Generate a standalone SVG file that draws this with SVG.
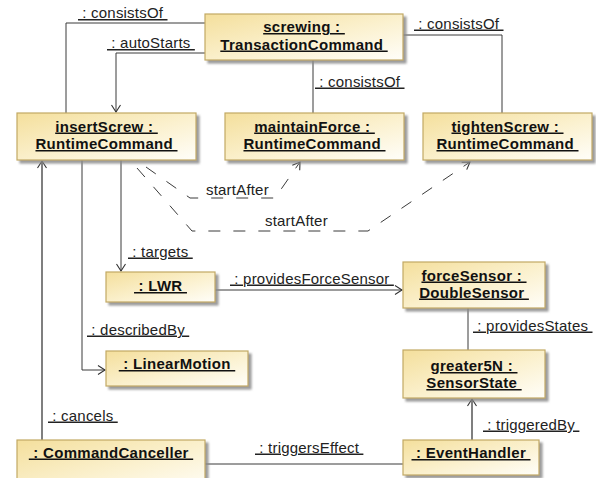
<svg xmlns="http://www.w3.org/2000/svg" width="596" height="478" viewBox="0 0 596 478">
  <style>
    .box { fill: url(#boxFill); stroke: #c2a964; stroke-width: 1.2; filter: url(#shade); }
    .nt { font-family: "Liberation Sans", Arial, sans-serif; font-size: 15px; font-weight: bold; fill: #111; text-anchor: middle; text-decoration: underline; white-space: pre; letter-spacing: 0.3px; }
    .lb { font-family: "Liberation Sans", Arial, sans-serif; font-size: 15px; fill: #222; text-decoration: underline; white-space: pre; letter-spacing: 0.2px; }
    .lb.plain { text-decoration: none; }
    .edge { fill: none; stroke: #3a3a3a; stroke-width: 1; }
    .heavy { stroke: #555; stroke-width: 1.5; }
    .dash { stroke-dasharray: 12 13; }
    .arr { marker-end: url(#open); }
  </style>
  <defs>
    <linearGradient id="boxFill" x1="0" y1="0" x2="1" y2="1">
      <stop offset="0" stop-color="#f4df9c"/>
      <stop offset="0.55" stop-color="#fbf1cf"/>
      <stop offset="1" stop-color="#fffef9"/>
    </linearGradient>
    <filter id="shade" x="-10%" y="-10%" width="130%" height="140%">
      <feDropShadow dx="3" dy="3" stdDeviation="1" flood-color="#8a8a8a" flood-opacity="0.85"/>
    </filter>
    <marker id="open" markerWidth="12" markerHeight="12" refX="10" refY="6" orient="auto" markerUnits="userSpaceOnUse">
      <path d="M3,1.5 L10,6 L3,10.5" fill="none" stroke="#333" stroke-width="1.1" stroke-dasharray="none"/>
    </marker>
  </defs>
  <rect width="596" height="478" fill="#ffffff"/>

  <!-- connectors -->
  <g id="connectors">
    <polyline class="edge" points="205,23 66,23 66,113"/>
    <polyline class="edge arr" points="205,53 116,53 116,112"/>
    <polyline class="edge" points="403,35 502,35 502,113"/>
    <line class="edge" x1="313" y1="60" x2="313" y2="113"/>
    <polyline class="edge dash arr" points="146,167 190,198 275,198 300,162"/>
    <polyline class="edge dash arr" points="137,168 192,231 368,231 470,162"/>
    <line class="edge arr" x1="121" y1="160" x2="121" y2="271"/>
    <polyline class="edge arr" points="82,160 82,370 105,370"/>
    <line class="edge heavy arr" x1="42" y1="440" x2="42" y2="161"/>
    <line class="edge arr" x1="215" y1="290" x2="402" y2="290"/>
    <line class="edge" x1="468" y1="308" x2="468" y2="350"/>
    <line class="edge heavy arr" x1="472" y1="440" x2="472" y2="399"/>
    <line class="edge" x1="205" y1="464" x2="403" y2="464"/>

    <text class="lb" x="78" y="18"> : consistsOf </text>
    <text class="lb" x="107" y="48"> : autoStarts </text>
    <text class="lb" x="414" y="28.5"> : consistsOf </text>
    <text class="lb" x="315" y="86.5"> : consistsOf </text>
    <text class="lb plain" x="206" y="195">startAfter</text>
    <text class="lb plain" x="265" y="226">startAfter</text>
    <text class="lb" x="128" y="256.5"> : targets </text>
    <text class="lb" x="230" y="283.5"> : providesForceSensor </text>
    <text class="lb" x="87" y="334.5"> : describedBy </text>
    <text class="lb" x="473" y="330.5"> : providesStates </text>
    <text class="lb" x="48" y="420.5"> : cancels </text>
    <text class="lb" x="255" y="452.5"> : triggersEffect </text>
    <text class="lb" x="483" y="429.5"> : triggeredBy </text>
  </g>

  <!-- objects -->
  <g id="screwing">
    <rect class="box" x="205" y="14" width="198" height="46"/>
    <text class="nt" x="304" y="32">screwing : </text>
    <text class="nt" x="304" y="49.5">TransactionCommand </text>
  </g>
  <g id="insertScrew">
    <rect class="box" x="17" y="113" width="179" height="47"/>
    <text class="nt" x="106.5" y="131.5">insertScrew : </text>
    <text class="nt" x="106.5" y="149">RuntimeCommand </text>
  </g>
  <g id="maintainForce">
    <rect class="box" x="225" y="113" width="179" height="47"/>
    <text class="nt" x="314.5" y="131.5">maintainForce : </text>
    <text class="nt" x="314.5" y="149">RuntimeCommand </text>
  </g>
  <g id="tightenScrew">
    <rect class="box" x="423" y="113" width="169" height="47"/>
    <text class="nt" x="507.5" y="131.5">tightenScrew : </text>
    <text class="nt" x="507.5" y="149">RuntimeCommand </text>
  </g>
  <g id="lwr">
    <rect class="box" x="106" y="272" width="109" height="30"/>
    <text class="nt" x="160.5" y="291"> : LWR </text>
  </g>
  <g id="forceSensor">
    <rect class="box" x="403" y="262" width="142" height="46"/>
    <text class="nt" x="474" y="280.5">forceSensor : </text>
    <text class="nt" x="474" y="297.5">DoubleSensor </text>
  </g>
  <g id="linearMotion">
    <rect class="box" x="106" y="351" width="142" height="35"/>
    <text class="nt" x="177" y="369"> : LinearMotion </text>
  </g>
  <g id="greater5N">
    <rect class="box" x="403" y="350" width="142" height="48"/>
    <text class="nt" x="474" y="371">greater5N : </text>
    <text class="nt" x="474" y="388">SensorState </text>
  </g>
  <g id="commandCanceller">
    <rect class="box" x="17" y="440" width="188" height="52"/>
    <text class="nt" x="111" y="457.5"> : CommandCanceller </text>
  </g>
  <g id="eventHandler">
    <rect class="box" x="403" y="440" width="136" height="35"/>
    <text class="nt" x="471" y="458"> : EventHandler </text>
  </g>
</svg>
